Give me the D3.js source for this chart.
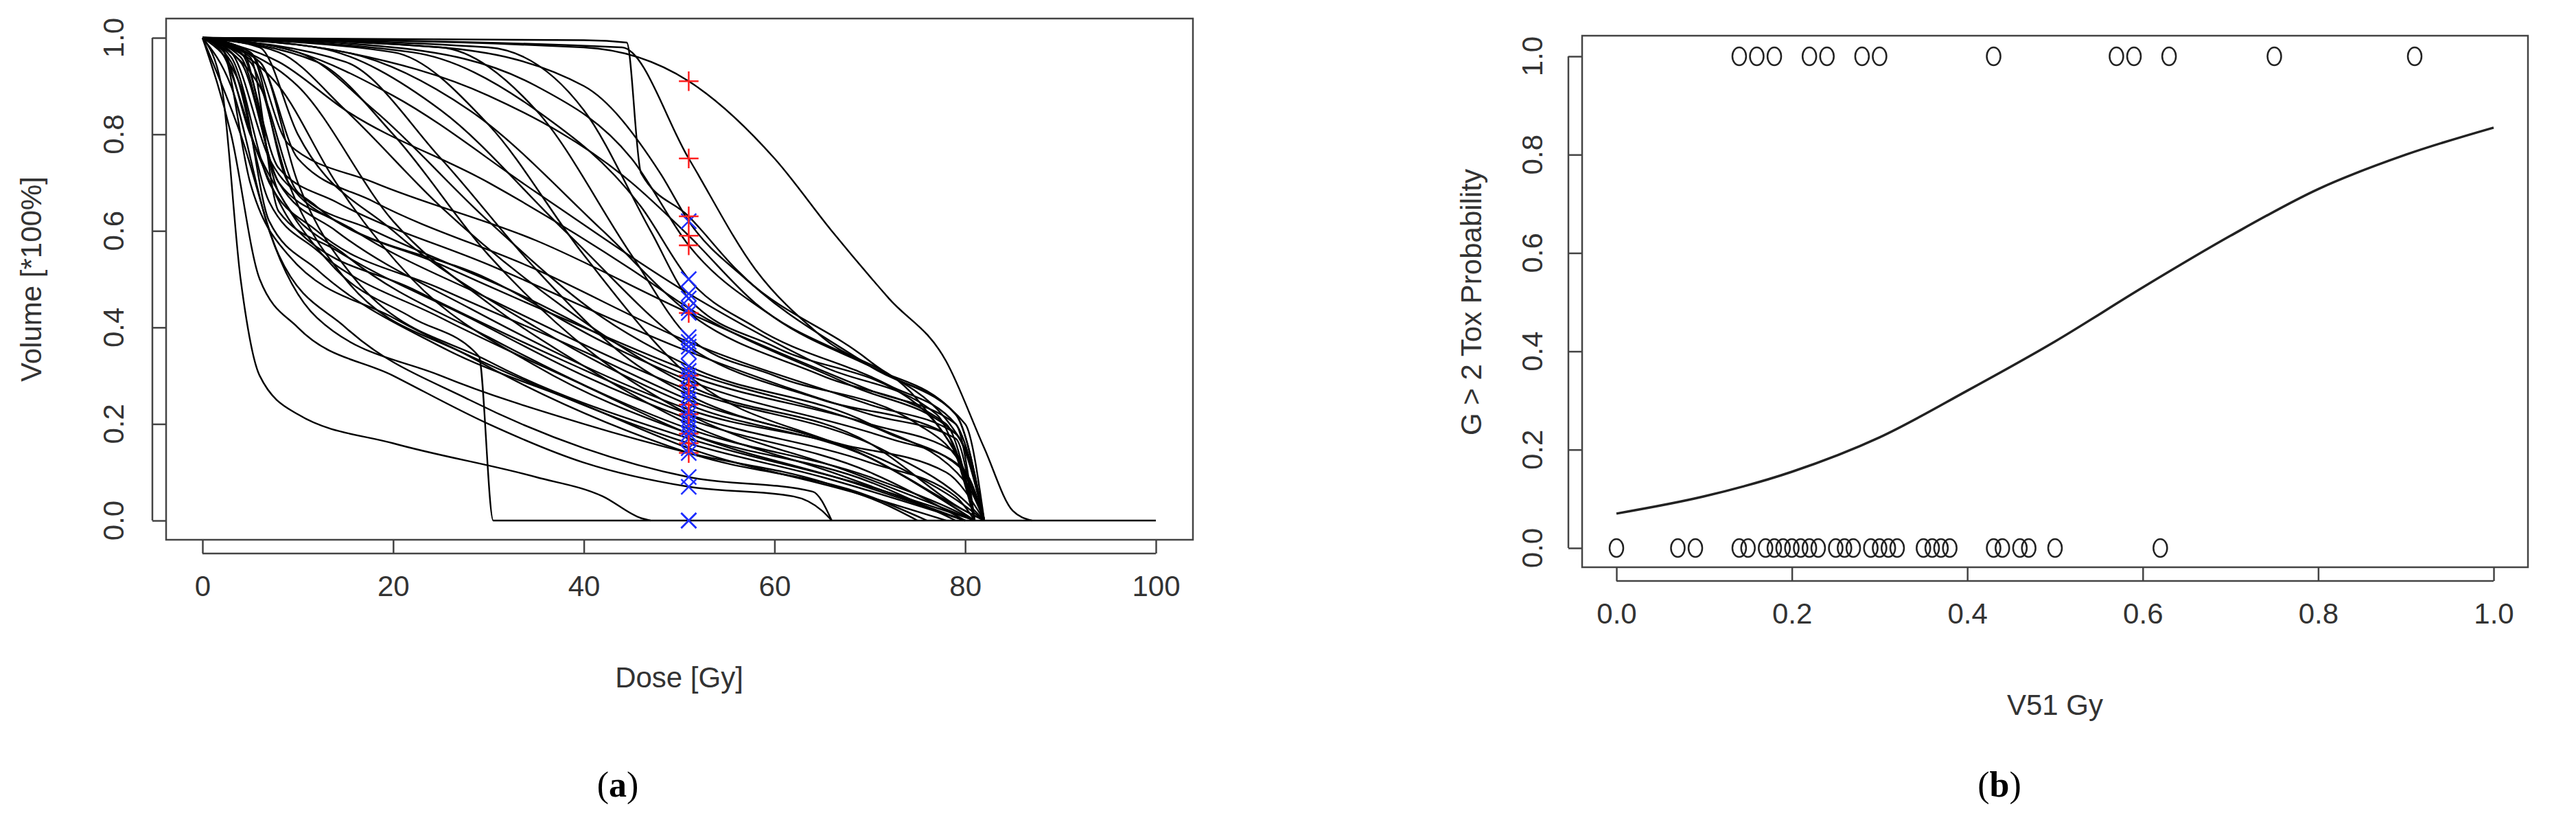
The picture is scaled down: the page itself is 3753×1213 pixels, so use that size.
<!DOCTYPE html><html><head><meta charset="utf-8">
<script src="https://cdn.jsdelivr.net/npm/d3@7"></script>
<style>body{margin:0;background:#fff}</style></head><body>
<script>
// DVH curves: [dose, volume] key points, tox flag, V51 value
const dvhCurves = [
 {tox:0,v51:0,pts:[[0,1],[2,0.98],[5,0.8],[8,0.68],[14,0.52],[22,0.42],[29,0.34],[30.5,0],[100,0]]},
 {tox:0,v51:0,pts:[[0,1],[2,0.9],[4,0.5],[6,0.3],[10,0.22],[20,0.16],[35,0.09],[42,0.05],[46,0.005],[47,0]]},
 {tox:0,v51:0.07,pts:[[0,1],[3,0.8],[6,0.5],[10,0.4],[20,0.3],[30,0.2],[40,0.12],[51,0.07],[62,0.05],[65,0.02],[66,0]]},
 {tox:0,v51:0.09,pts:[[0,1],[4,0.8],[8,0.55],[15,0.4],[28,0.25],[40,0.15],[51,0.09],[64,0.06],[66,0]]},
 {tox:1,v51:0.14,pts:[[0,1],[3,0.9],[7,0.6],[12,0.42],[25,0.3],[40,0.2],[51,0.14],[65,0.08],[72,0.03],[75,0]]},
 {tox:0,v51:0.14,pts:[[0,1],[5,0.95],[9,0.7],[15,0.5],[28,0.34],[51,0.14],[70,0.05],[76,0]]},
 {tox:0,v51:0.15,pts:[[0,1],[4,0.9],[7,0.62],[12,0.52],[25,0.36],[40,0.24],[51,0.15],[68,0.06],[78,0]]},
 {tox:1,v51:0.16,pts:[[0,1],[2,0.98],[5,0.7],[9,0.55],[20,0.42],[35,0.28],[51,0.16],[65,0.09],[80,0]]},
 {tox:0,v51:0.17,pts:[[0,1],[6,0.95],[10,0.7],[16,0.5],[30,0.33],[51,0.17],[70,0.07],[81,0]]},
 {tox:1,v51:0.18,pts:[[0,1],[3,0.95],[7,0.66],[12,0.56],[25,0.42],[40,0.28],[51,0.18],[68,0.08],[80,0]]},
 {tox:0,v51:0.18,pts:[[0,1],[8,0.9],[14,0.7],[22,0.5],[35,0.32],[51,0.18],[70,0.08],[79,0]]},
 {tox:0,v51:0.19,pts:[[0,1],[4,0.98],[8,0.68],[15,0.55],[30,0.38],[51,0.19],[70,0.09],[80,0.01],[81,0]]},
 {tox:0,v51:0.20,pts:[[0,1],[10,0.9],[20,0.62],[30,0.45],[40,0.32],[51,0.2],[66,0.1],[80,0]]},
 {tox:0,v51:0.21,pts:[[0,1],[5,0.96],[8,0.64],[14,0.56],[28,0.42],[40,0.3],[51,0.21],[70,0.1],[80,0]]},
 {tox:1,v51:0.22,pts:[[0,1],[2,0.97],[6,0.75],[10,0.6],[22,0.48],[38,0.33],[51,0.22],[70,0.12],[79,0.05],[81,0]]},
 {tox:0,v51:0.22,pts:[[0,1],[12,0.95],[20,0.8],[30,0.55],[42,0.33],[51,0.22],[68,0.1],[81,0]]},
 {tox:0,v51:0.23,pts:[[0,1],[4,0.95],[8,0.7],[14,0.6],[28,0.44],[51,0.23],[72,0.12],[80,0.03],[82,0]]},
 {tox:1,v51:0.24,pts:[[0,1],[6,0.98],[10,0.8],[20,0.6],[35,0.4],[51,0.24],[70,0.13],[80,0.02],[82,0]]},
 {tox:0,v51:0.25,pts:[[0,1],[3,0.96],[7,0.7],[12,0.6],[25,0.48],[40,0.35],[51,0.25],[70,0.13],[81,0]]},
 {tox:0,v51:0.26,pts:[[0,1],[15,0.95],[25,0.75],[35,0.52],[45,0.33],[51,0.26],[70,0.13],[81,0]]},
 {tox:0,v51:0.27,pts:[[0,1],[5,0.97],[9,0.7],[16,0.6],[30,0.46],[51,0.27],[72,0.14],[80,0.04],[82,0]]},
 {tox:1,v51:0.28,pts:[[0,1],[8,0.97],[15,0.85],[25,0.65],[38,0.44],[51,0.28],[70,0.16],[80,0.02],[82,0]]},
 {tox:0,v51:0.29,pts:[[0,1],[4,0.96],[8,0.7],[14,0.62],[30,0.5],[42,0.37],[51,0.29],[72,0.17],[79,0.12],[82,0]]},
 {tox:1,v51:0.30,pts:[[0,1],[20,0.97],[30,0.82],[40,0.55],[51,0.3],[65,0.17],[78,0.1],[82,0]]},
 {tox:0,v51:0.30,pts:[[0,1],[6,0.9],[10,0.68],[18,0.6],[32,0.48],[51,0.3],[70,0.2],[79,0.14],[81,0]]},
 {tox:0,v51:0.31,pts:[[0,1],[3,0.97],[7,0.75],[12,0.65],[25,0.53],[40,0.4],[51,0.31],[72,0.18],[80,0.1],[82,0]]},
 {tox:0,v51:0.32,pts:[[0,1],[10,0.97],[18,0.85],[30,0.62],[42,0.42],[51,0.32],[70,0.2],[80,0.08],[82,0]]},
 {tox:0,v51:0.35,pts:[[0,1],[4,0.97],[8,0.73],[14,0.66],[30,0.53],[51,0.35],[70,0.22],[79,0.17],[81,0]]},
 {tox:0,v51:0.36,pts:[[0,1],[12,0.98],[25,0.85],[38,0.6],[51,0.36],[65,0.25],[78,0.18],[81,0]]},
 {tox:0,v51:0.37,pts:[[0,1],[6,0.95],[10,0.75],[18,0.66],[35,0.52],[51,0.37],[70,0.24],[79,0.18],[82,0]]},
 {tox:0,v51:0.38,pts:[[0,1],[25,0.98],[35,0.85],[45,0.55],[51,0.38],[60,0.3],[75,0.2],[80,0.1],[82,0]]},
 {tox:0,v51:0.43,pts:[[0,1],[5,0.97],[9,0.78],[18,0.7],[35,0.58],[51,0.43],[70,0.27],[79,0.2],[81,0]]},
 {tox:1,v51:0.43,pts:[[0,1],[15,0.97],[28,0.85],[42,0.6],[51,0.43],[65,0.3],[78,0.2],[81,0]]},
 {tox:0,v51:0.44,pts:[[0,1],[8,0.95],[15,0.85],[30,0.7],[45,0.52],[51,0.44],[68,0.28],[79,0.18],[82,0]]},
 {tox:0,v51:0.46,pts:[[0,1],[30,0.98],[40,0.85],[47,0.6],[51,0.46],[60,0.36],[75,0.24],[80,0.1],[82,0]]},
 {tox:0,v51:0.47,pts:[[0,1],[10,0.97],[20,0.88],[35,0.68],[51,0.47],[65,0.32],[77,0.22],[81,0]]},
 {tox:0,v51:0.50,pts:[[0,1],[22,0.97],[35,0.85],[46,0.65],[51,0.5],[58,0.4],[72,0.28],[79,0.2],[82,0]]},
 {tox:1,v51:0.57,pts:[[0,1],[20,0.98],[35,0.9],[45,0.75],[51,0.57],[60,0.42],[72,0.3],[79,0.22],[82,0]]},
 {tox:1,v51:0.59,pts:[[0,1],[15,0.97],[30,0.88],[45,0.7],[51,0.59],[58,0.45],[70,0.32],[79,0.22],[82,0]]},
 {tox:0,v51:0.62,pts:[[0,1],[25,0.98],[40,0.9],[48,0.72],[51,0.62],[57,0.5],[70,0.33],[80,0.15],[82,0]]},
 {tox:1,v51:0.63,pts:[[0,1],[40,0.995],[44.5,0.99],[46,0.72],[51,0.63],[56,0.52],[70,0.32],[80,0.2],[82,0]]},
 {tox:1,v51:0.75,pts:[[0,1],[44,0.98],[51,0.75],[58,0.52],[65,0.38],[75,0.25],[80,0.1],[82,0]]},
 {tox:1,v51:0.91,pts:[[0,1],[40,0.98],[51,0.91],[60,0.75],[66,0.6],[72,0.46],[78,0.33],[82,0.15],[85,0.02],[87,0]]}
];
const markerDose = 51;
const doseTicks = [0,20,40,60,80,100];
const volTicks = [0,0.2,0.4,0.6,0.8,1.0];
// panel b
const toxV51 = [0.14,0.16,0.18,0.22,0.24,0.28,0.30,0.43,0.57,0.59,0.63,0.75,0.91];
const noToxV51 = [0,0.07,0.09,0.14,0.15,0.17,0.18,0.19,0.20,0.21,0.22,0.23,0.25,0.26,0.27,0.29,0.30,0.31,0.32,0.35,0.36,0.37,0.38,0.43,0.44,0.46,0.47,0.50,0.62];
const fitX = [0,0.1,0.2,0.3,0.4,0.5,0.6,0.7,0.8,0.9,1.0];
const fitP = [0.07,0.105,0.155,0.225,0.32,0.42,0.53,0.635,0.73,0.80,0.855];
const vTicks = [0,0.2,0.4,0.6,0.8,1.0];

const W=3753,H=1213;
const svg=d3.select("body").append("svg").attr("width",W).attr("height",H);
const FONT="Liberation Sans, Arial, sans-serif";
const tc="#333";

function frame(box, x, y, xt, yt, xfmt, xlab, ylab, cap, ylabX, yTickX){
  svg.append("rect").attr("x",box[0]).attr("y",box[1]).attr("width",box[2]-box[0]).attr("height",box[3]-box[1])
    .attr("fill","none").attr("stroke","#444").attr("stroke-width",2.5);
  const gx=svg.append("g").attr("transform",`translate(0,${box[3]})`)
    .call(d3.axisBottom(x).tickValues(xt).tickFormat(xfmt).tickSize(20).tickPadding(32));
  const gy=svg.append("g").attr("transform",`translate(${box[0]},0)`)
    .call(d3.axisLeft(y).tickValues(yt).tickFormat("").tickSize(20));
  [gx,gy].forEach(g=>{g.select(".domain").remove();
    g.selectAll("line").attr("stroke","#444").attr("stroke-width",2.5);
    g.selectAll("text").attr("font-family",FONT).attr("font-size",42).attr("fill",tc);});
  svg.append("line").attr("x1",x(xt[0])).attr("x2",x(xt[xt.length-1])).attr("y1",box[3]+20).attr("y2",box[3]+20).attr("stroke","#444").attr("stroke-width",2.5);
  svg.append("line").attr("x1",box[0]-20).attr("x2",box[0]-20).attr("y1",y(yt[0])).attr("y2",y(yt[yt.length-1])).attr("stroke","#444").attr("stroke-width",2.5);
  svg.append("g").selectAll("text").data(yt).join("text")
    .attr("transform",d=>`translate(${yTickX},${y(d)}) rotate(-90)`).attr("text-anchor","middle").attr("dy","0.35em")
    .attr("font-family",FONT).attr("font-size",42).attr("fill",tc).text(d3.format(".1f"));
  svg.append("text").attr("x",(x(xt[0])+x(xt[xt.length-1]))/2).attr("y",box[3]+215).attr("text-anchor","middle")
    .attr("font-family",FONT).attr("font-size",42).attr("fill",tc).text(xlab);
  svg.append("text").attr("transform",`translate(${ylabX},${(y(yt[0])+y(yt[yt.length-1]))/2}) rotate(-90)`).attr("text-anchor","middle").attr("dy","0.35em")
    .attr("font-family",FONT).attr("font-size",42).attr("fill",tc).text(ylab);
  const c=svg.append("text").attr("x",cap[0]).attr("y",cap[1]).attr("text-anchor","middle")
    .attr("font-family","Liberation Serif, Times New Roman, serif").attr("font-size",52).attr("fill","#000");
  c.append("tspan").text("(");c.append("tspan").attr("font-weight","bold").text(cap[2]);c.append("tspan").text(")");
}

// Panel a
const boxA=[242,27,1738,786];
const xa=d3.scaleLinear().domain([0,100]).range([295,1684]);
const ya=d3.scaleLinear().domain([0,1]).range([758,55]);
frame(boxA,xa,ya,doseTicks,volTicks,d3.format("d"),"Dose [Gy]","Volume [*100%]",[900,1160,"a"],45,165);
const line=d3.line().x(d=>xa(d[0])).y(d=>ya(d[1])).curve(d3.curveMonotoneX);
svg.append("g").selectAll("path").data(dvhCurves).join("path").attr("d",d=>line(d.pts))
  .attr("fill","none").attr("stroke","#000").attr("stroke-width",2.4);
const mk=svg.append("g");
dvhCurves.forEach(d=>{
  const cx=xa(markerDose),cy=ya(d.v51),s=11;
  if(d.tox){
    mk.append("path").attr("d",`M${cx-s*1.3},${cy}H${cx+s*1.3}M${cx},${cy-s*1.3}V${cy+s*1.3}`).attr("stroke","#ff2020").attr("stroke-width",2.5);
  } else {
    mk.append("path").attr("d",`M${cx-s},${cy-s}L${cx+s},${cy+s}M${cx-s},${cy+s}L${cx+s},${cy-s}`).attr("stroke","#2030ff").attr("stroke-width",2.5);
  }
});

// Panel b
const boxB=[2305,52,3683,826];
const xb=d3.scaleLinear().domain([0,1]).range([2355,3633]);
const yb=d3.scaleLinear().domain([0,1]).range([798,82]);
frame(boxB,xb,yb,vTicks,vTicks,d3.format(".1f"),"V51 Gy","G > 2 Tox Probability",[2913,1160,"b"],2143,2232);
svg.append("path").attr("d",d3.line().x((d,i)=>xb(fitX[i])).y(d=>yb(d)).curve(d3.curveMonotoneX)(fitP))
  .attr("fill","none").attr("stroke","#222").attr("stroke-width",3.5);
const pts=toxV51.map(v=>[v,1]).concat(noToxV51.map(v=>[v,0]));
svg.append("g").selectAll("ellipse").data(pts).join("ellipse").attr("cx",d=>xb(d[0])).attr("cy",d=>yb(d[1]))
  .attr("rx",10).attr("ry",13).attr("fill","none").attr("stroke","#222").attr("stroke-width",2.5);
</script></body></html>
